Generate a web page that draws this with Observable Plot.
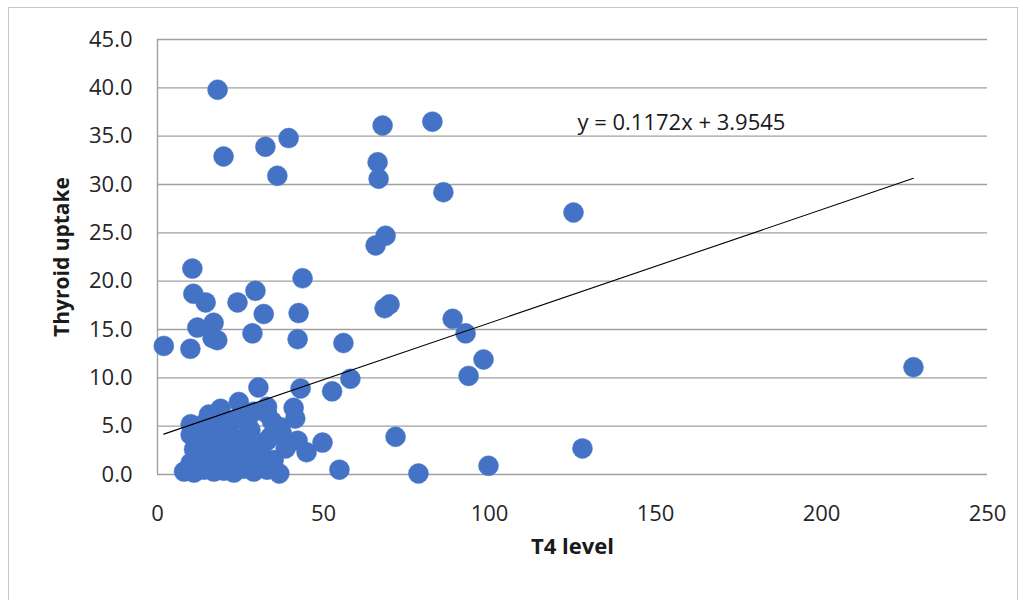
<!DOCTYPE html>
<html>
<head>
<meta charset="utf-8">
<script src="https://cdn.jsdelivr.net/npm/d3@7"></script>
<script src="https://cdn.jsdelivr.net/npm/@observablehq/plot@0.6"></script>
<style>
  html, body { margin: 0; padding: 0; background: #fff; }
  #wrap { position: relative; width: 1023px; height: 600px; overflow: hidden; }
  #frame { position: absolute; left: 8px; top: 7px; width: 1010px; height: 620px; border: 1px solid #c6c6c6; box-sizing: border-box; pointer-events: none; }
  #chart { position: absolute; left: 0; top: 0; }
</style>
</head>
<body>
<div id="wrap"><div id="chart"></div><div id="frame"></div></div>
<script>
// T4 level (x) and Thyroid uptake (y)
const t4 = [
  18.1, 19.9, 32.5, 39.5, 36.1, 67.8, 82.8, 66.3, 66.6, 86.1,
  125.3, 65.7, 68.7, 227.7, 1.9, 10.5, 10.8, 14.5, 16.9, 12.0,
  9.9, 16.6, 18.0, 24.1, 29.5, 32.0, 28.6, 42.2, 42.5, 43.7,
  56.0, 58.1, 52.6, 43.1, 30.4, 41.0, 68.4, 69.9, 88.9, 92.8,
  93.7, 98.2, 71.7, 78.6, 99.7, 128.0, 54.8, 49.7, 44.9, 36.7,
  38.6, 42.2, 37.0, 33.0, 31.0, 37.5, 41.5,
  // dense cluster
  8, 11, 14, 17, 20, 23, 26, 29, 33,
  10, 13, 16, 19, 22, 25, 28, 31, 35,
  11, 14, 17, 20, 23, 27, 30, 33,
  10, 13, 16, 19, 22, 26, 34,
  10, 12, 15, 18, 21, 24, 27, 33,
  19, 24.5, 15.5, 29, 34.5,
  12, 18, 25, 21, 28, 15, 24, 31.5, 19.5, 13.5
];
const uptake = [
  39.8, 32.9, 33.9, 34.8, 30.9, 36.1, 36.5, 32.3, 30.6, 29.2,
  27.1, 23.7, 24.7, 11.1, 13.3, 21.3, 18.7, 17.8, 15.7, 15.2,
  13.0, 14.1, 13.9, 17.8, 19.0, 16.6, 14.6, 14.0, 16.7, 20.3,
  13.6, 9.9, 8.6, 8.9, 9.0, 6.9, 17.2, 17.6, 16.1, 14.6,
  10.2, 11.9, 3.9, 0.1, 0.9, 2.7, 0.5, 3.3, 2.3, 0.1,
  2.7, 3.5, 4.9, 6.3, 2.5, 4.2, 5.8,
  0.3, 0.2, 0.5, 0.3, 0.4, 0.2, 0.6, 0.3, 0.5,
  1.2, 1.8, 1.5, 1.1, 1.7, 1.4, 1.9, 1.3, 1.5,
  2.6, 3.0, 2.5, 2.9, 3.2, 2.7, 2.4, 3.5,
  4.1, 3.8, 4.4, 3.9, 4.2, 3.7, 3.9,
  5.2, 5.0, 5.6, 6.1, 5.3, 5.8, 5.4, 7.0,
  6.8, 7.5, 6.2, 6.5, 5.5,
  3.4, 1.0, 3.3, 2.2, 4.6, 2.0, 0.9, 3.0, 4.8, 0.8
];
const xTicks = [0, 50, 100, 150, 200, 250];
const yTicks = [0, 5, 10, 15, 20, 25, 30, 35, 40, 45];
const slope = 0.1172;
const intercept = 3.9545;
const equationLabel = "y = 0.1172x + 3.9545";
const xTitle = "T4 level";
const yTitle = "Thyroid uptake";

const points = t4.map((x, i) => ({x, y: uptake[i]}));
const xMin = d3.min(t4), xMax = d3.max(t4);
const trend = [xMin, xMax].map(x => ({x, y: slope * x + intercept}));

const chart = Plot.plot({
  width: 1023,
  height: 600,
  marginLeft: 157,
  marginRight: 36,
  marginTop: 39,
  marginBottom: 126,
  style: {fontFamily: "'Open Sans', sans-serif", fontSize: "22px", color: "#262626", background: "transparent"},
  x: {domain: [0, 250], ticks: xTicks},
  y: {domain: [0, 45], ticks: yTicks},
  marks: [
    Plot.gridY(yTicks, {stroke: "#a0a0a0", strokeOpacity: 1, strokeWidth: 1.4}),
    Plot.ruleX([0], {y1: 0, y2: 45, stroke: "#a0a0a0", strokeOpacity: 1, strokeWidth: 1.4}),
    Plot.axisY(yTicks, {tickSize: 0, tickPadding: 25, tickFormat: d3.format(".1f"), label: null, fontSize: 22}),
    Plot.axisX(xTicks, {tickSize: 0, tickPadding: 31, tickFormat: d => d, label: null, fontSize: 22}),
    Plot.dot(points, {x: "x", y: "y", r: 10, fill: "#4472C4", stroke: "#4472C4", strokeWidth: 0.5}),
    Plot.line(trend, {x: "x", y: "y", stroke: "#000", strokeWidth: 1.1}),
    Plot.text([equationLabel], {x: 126.5, y: 36.4, textAnchor: "start", fontSize: 22, fill: "#1a1a1a"}),
    Plot.text([xTitle], {frameAnchor: "bottom", textAnchor: "middle", dy: 79, fontSize: 22, fontWeight: "bold", fill: "#1a1a1a"}),
    Plot.text([yTitle], {frameAnchor: "left", textAnchor: "middle", dx: -95, rotate: -90, fontSize: 21, fontWeight: "bold", fill: "#1a1a1a"})
  ]
});
document.getElementById("chart").appendChild(chart);
</script>
</body>
</html>
